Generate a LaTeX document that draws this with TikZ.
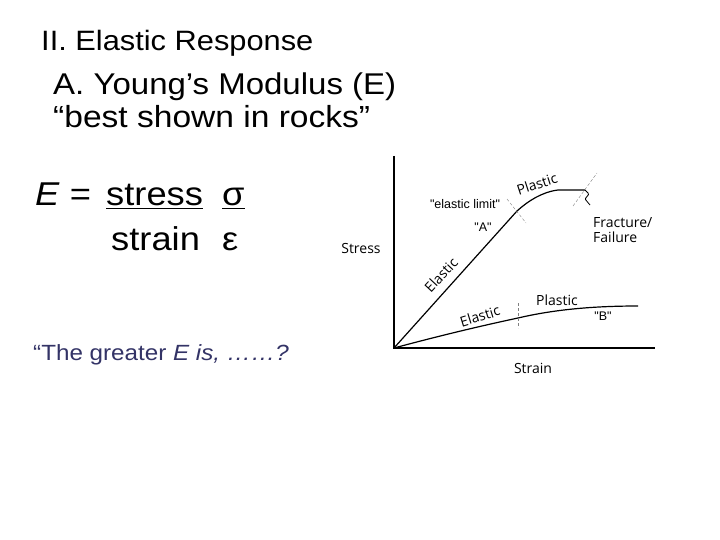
\documentclass[tikz,border=0pt]{standalone}
\usepackage{fontspec}
\setmainfont{Liberation Sans}[FakeStretch=1.1]
\newfontfamily\plotfont{Open Sans}
\newfontfamily\notefont{Liberation Sans}
\usetikzlibrary{positioning}
\definecolor{slateblue}{HTML}{333366}

\begin{document}
\begin{tikzpicture}[x=1pt,y=-1pt,
  slide/.style={anchor=base west,inner sep=0pt},
  plotlbl/.style={font=\plotfont\fontsize{14}{16}\selectfont,inner sep=0pt},
  notelbl/.style={font=\notefont\fontsize{12.5}{14}\selectfont,inner sep=0pt},
  curve/.style={line width=1.2pt},
  limitdash/.style={densely dashed,line width=0.4pt,gray}]
\useasboundingbox (0,0) rectangle (720,540);

% slide text
\node[slide,font=\fontsize{28}{34}\selectfont] (sec) at (41,51) {II. Elastic Response};
\node[slide,font=\fontsize{30}{34}\selectfont] (young) at (53,95) {A. Young’s Modulus (E)};
\node[slide,font=\fontsize{30.5}{34}\selectfont] (rocks) at (53,128) {“best shown in rocks”};
\node[slide,font=\fontsize{33}{38}\selectfont] (eq) at (35,206) {\textit{E} =};
\node[slide,font=\fontsize{33}{38}\selectfont] (stress) at (106,206) {\underline{stress}};
\node[slide,font=\fontsize{33}{38}\selectfont] (sigma) at (222,206) {\underline{σ}};
\node[slide,font=\fontsize{33}{38}\selectfont] (strain) at (111,250) {strain};
\node[slide,font=\fontsize{33}{38}\selectfont] (eps) at (222,250) {ε};
\node[slide,font=\fontsize{22}{28}\selectfont,text=slateblue] (question) at (33,360)
  {“The greater \textit{E is, ……?}};

% stress-strain plot
\coordinate (O) at (394,348);
\coordinate (ytop) at (394,156);
\coordinate (xend) at (655,348);
\draw[line width=1.4pt] (ytop) -- (O) -- (xend);
\coordinate (elim) at (517,211);
\coordinate (frac) at (585,190);
\coordinate (blim) at (518,318);
\coordinate (bend) at (638,306);
\draw[curve] (O) -- (elim) .. controls (528,201) and (542,192) .. (558,190) -- (frac);
\draw[line width=0.8pt,rounded corners=1pt] (frac) -- (589,194) -- (585,199) -- (590,205);
\draw[curve] (O) .. controls (450,333) and (490,324) .. (blim)
  .. controls (548,311) and (585,306) .. (bend);
\draw[limitdash] (507,199) -- (526,223);
\draw[limitdash] (573,206) -- (597,173);
\draw[limitdash] (518,303) -- (518,328);

\node[plotlbl,rotate=18] (plasA) at (537,184) {Plastic};
\node[plotlbl,rotate=47] (elasA) at (441,275) {Elastic};
\node[plotlbl,rotate=17] (elasB) at (480,316) {Elastic};
\node[plotlbl] (plasB) at (557,300) {Plastic};
\node[notelbl] (limit) at (465,204) {"elastic limit"};
\node[notelbl] (labA) at (483,227) {"A"};
\node[notelbl] (labB) at (603,316) {"B"};
\node[plotlbl,anchor=base west] (fract) at (593,227) {Fracture/};
\node[plotlbl,anchor=base west] (fail) at (593,242) {Failure};
\node[plotlbl] (ylab) at (361,248) {Stress};
\node[plotlbl] (xlab) at (533,368) {Strain};
\end{tikzpicture}
\end{document}
